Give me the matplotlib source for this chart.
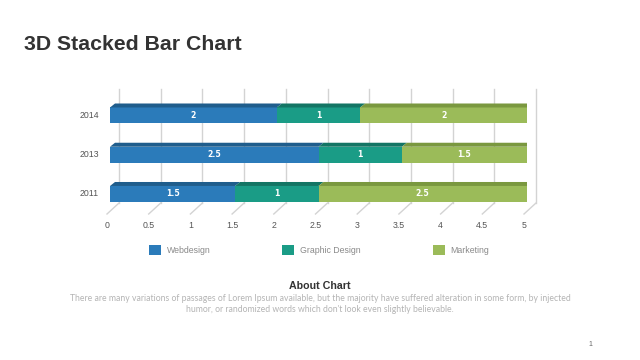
import matplotlib.pyplot as plt
from matplotlib.patches import Polygon, Patch

# data
years = ["2011", "2013", "2014"]
webdesign = [1.5, 2.5, 2]
graphic_design = [1, 1, 1]
marketing = [2.5, 1.5, 2]
series_names = ["Webdesign", "Graphic Design", "Marketing"]
xticks = [0, 0.5, 1, 1.5, 2, 2.5, 3, 3.5, 4, 4.5, 5]
xtick_labels = ["0", "0.5", "1", "1.5", "2", "2.5", "3", "3.5", "4", "4.5", "5"]

front_cols = ["#2b7bba", "#1a9c86", "#9bbb59"]
top_cols = ["#1f5d8c", "#137564", "#7a983f"]
side_col = "#6b8836"

plt.rcParams["font.family"] = ["Liberation Sans", "DejaVu Sans"]

W, H = 640, 360
fig = plt.figure(figsize=(W / 100, H / 100), dpi=100)
fig.patch.set_facecolor("white")

ax = fig.add_axes([110 / W, 1 - 214 / H, 417 / W, 125 / H])
x0, x1 = 0, 5
y0, y1 = -0.51, 2.675
ax.set_xlim(x0, x1)
ax.set_ylim(y0, y1)
ax.axis("off")

# pixel -> data unit conversion
px = (x1 - x0) / 417
py = (y1 - y0) / 125

# back wall gridlines + floor diagonals
floor_back = y0 + 11 * py
for v, lab in zip(xticks, xtick_labels):
    ax.plot([v + 9 * px, v + 9 * px], [floor_back, y1], color="#d3d3d3", lw=1,
            clip_on=False, zorder=1)
    ax.plot([v + 9 * px, v - 3 * px], [floor_back, y0], color="#d3d3d3", lw=1,
            clip_on=False, zorder=1)
    ax.text(v - 3 * px, y0 - 12 * py, lab, ha="center", va="center",
            fontsize=6.3, color="#555555")

# year labels
for i, yr in enumerate(years):
    ax.text(-11 * px, i, yr, ha="right", va="center", fontsize=6.3, color="#555555")

# 3d stacked bars
h = 16 * py
ddx, ddy = 5 * px, 4 * py
series = [webdesign, graphic_design, marketing]
for i in range(len(years)):
    left = 0
    for s, vals in enumerate(series):
        w = vals[i]
        ax.barh(i, w, left=left, height=h, color=front_cols[s], zorder=3)
        top = i + h / 2
        ax.add_patch(Polygon([(left, top), (left + w, top),
                              (left + w + ddx, top + ddy), (left + ddx, top + ddy)],
                             closed=True, facecolor=top_cols[s], edgecolor="none", zorder=3))
        ax.text(left + w / 2, i, f"{w:g}", ha="center", va="center", color="white",
                fontsize=5.6, fontweight="bold", family="DejaVu Sans", zorder=4)
        left += w
    ax.add_patch(Polygon([(left, i - h / 2), (left, i + h / 2),
                          (left + ddx, i + h / 2 + ddy), (left + ddx, i - h / 2 + ddy)],
                         closed=True, facecolor=side_col, edgecolor="none", zorder=3))

# legend
handles = [Patch(facecolor=c, edgecolor="none") for c in front_cols]
fig.legend(handles, series_names, loc="center", bbox_to_anchor=(319 / W, 1 - 250 / H),
           ncol=3, frameon=False, fontsize=6.3, handlelength=1.37, handleheight=1.37,
           columnspacing=8.2, handletextpad=0.7, labelcolor="#8a8a8a")

# texts
fig.text(24 / W, 1 - 44 / H, "3D Stacked Bar Chart", fontsize=15.3, fontweight="bold",
         color="#333333", ha="left", va="center")
fig.text(0.5, 1 - 286 / H, "About Chart", fontsize=7.7, fontweight="bold",
         color="#333333", ha="center", va="center")
fig.text(0.5, 1 - 304 / H,
         "There are many variations of passages of Lorem Ipsum available, but the majority have suffered alteration in some form, by injected\n"
         "humor, or randomized words which don't look even slightly believable.",
         fontsize=6.25, color="#b4b4b4", ha="center", va="center", family="Lato",
         linespacing=1.3)
fig.text(590 / W, 1 - 344 / H, "1", fontsize=5, color="#666666", ha="center", va="center")

fig.savefig("out.png", dpi=100)
